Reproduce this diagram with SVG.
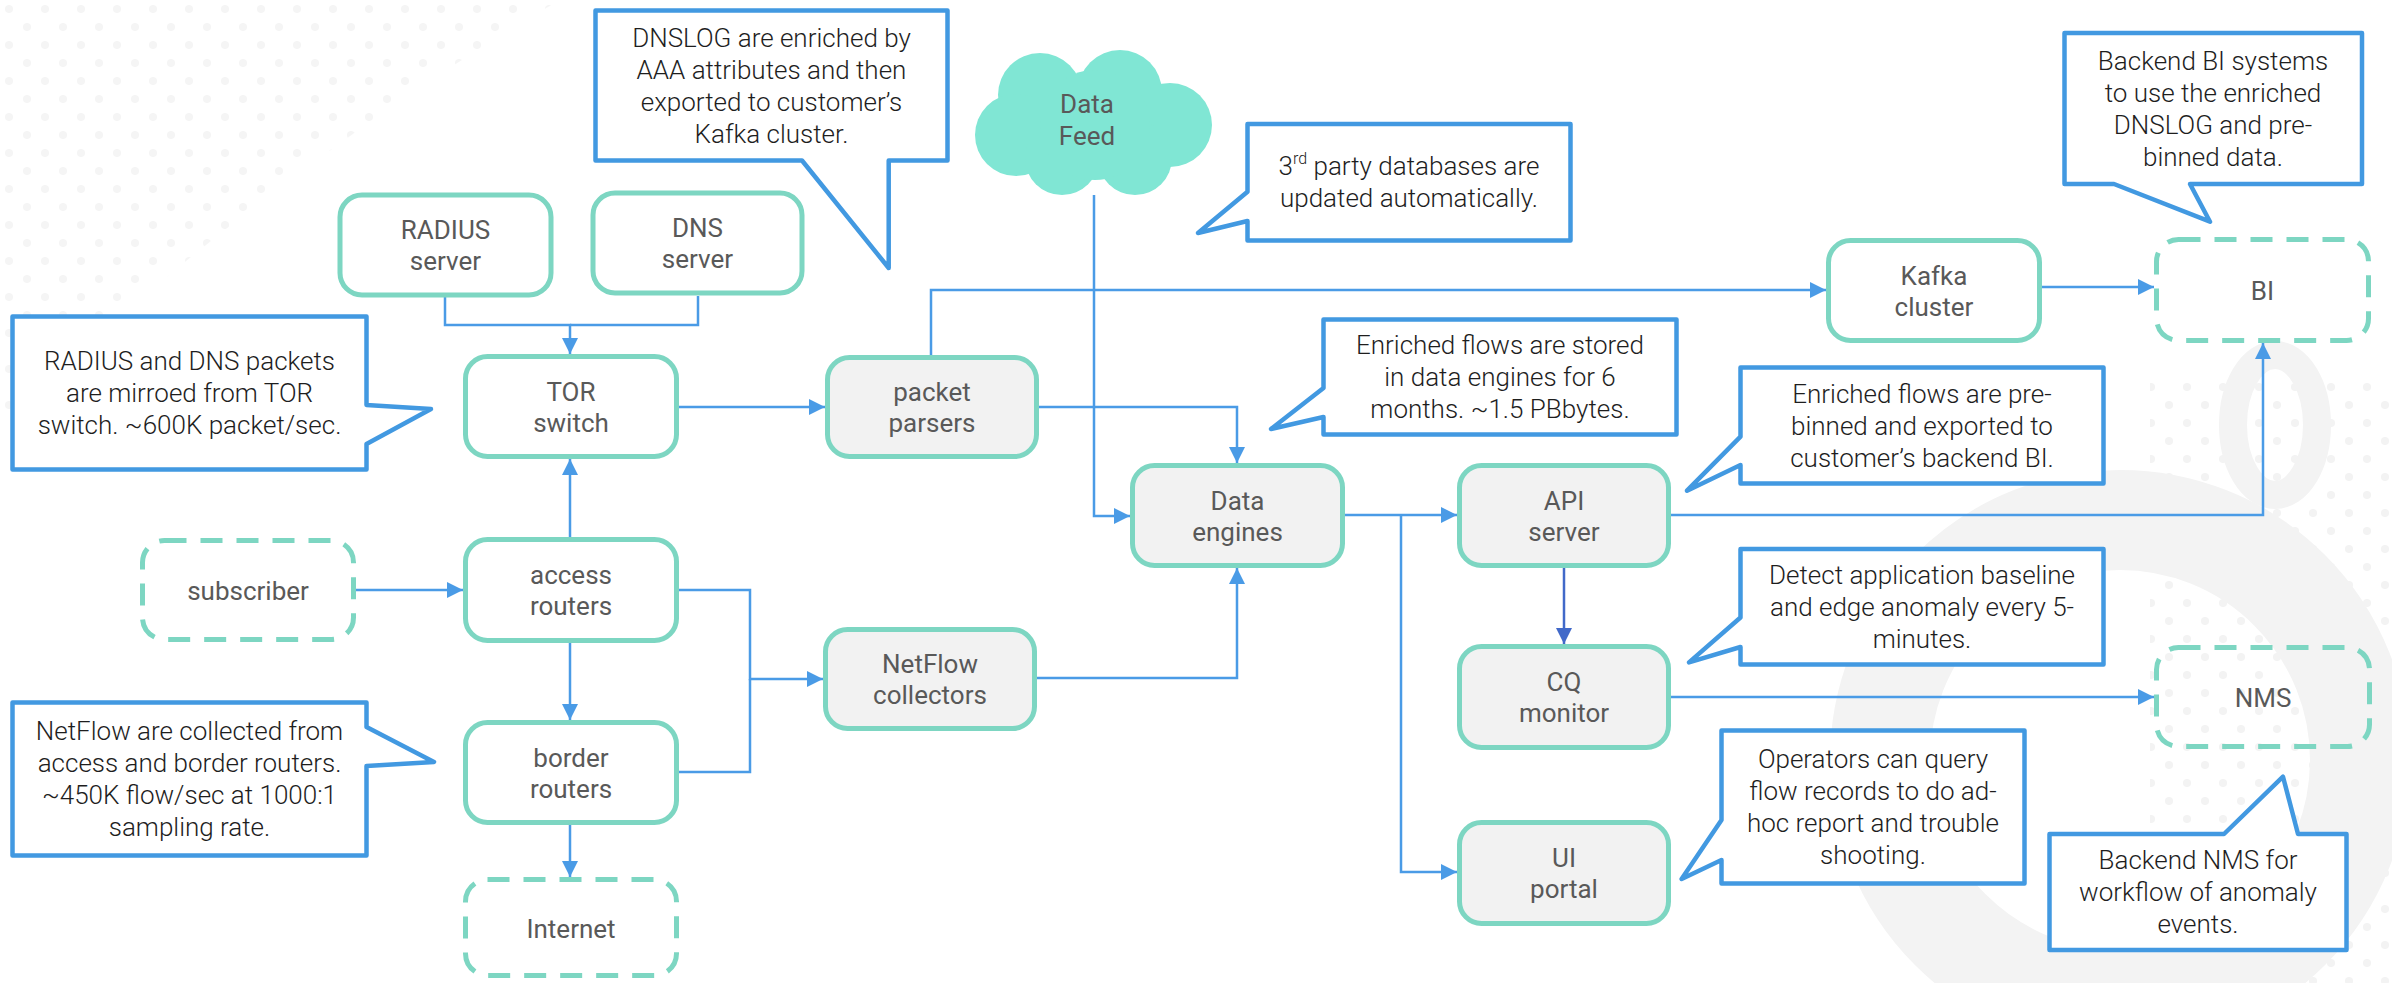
<svg xmlns="http://www.w3.org/2000/svg" width="2392" height="983" viewBox="0 0 2392 983">
<style>
.node{stroke:#7dd6c2;stroke-width:5;fill:#ffffff}
.gray{fill:#f2f2f2}
.dash{stroke-dasharray:22 14;fill:none}
.nt{font-family:Roboto,"Liberation Sans",sans-serif;font-size:26px;fill:#595959;text-anchor:middle}
.ct{font-family:Roboto,"Liberation Sans",sans-serif;font-weight:300;font-size:26px;fill:#1e1e1e;text-anchor:middle}
.call{fill:#ffffff;stroke:#4299e1;stroke-width:4.5;stroke-linejoin:round}
.c{fill:none;stroke:#4a9be6;stroke-width:2.5}
</style>
<defs>
<marker id="ah" viewBox="0 0 16 16" markerWidth="16" markerHeight="16" refX="16" refY="8" orient="auto" markerUnits="userSpaceOnUse">
<path d="M0,0 L16,8 L0,16 z" fill="#4a9be6"/>
</marker>
<marker id="ahd" viewBox="0 0 16 16" markerWidth="16" markerHeight="16" refX="16" refY="8" orient="auto" markerUnits="userSpaceOnUse">
<path d="M0,0 L16,8 L0,16 z" fill="#4169c9"/>
</marker>
<pattern id="dots" width="36" height="36" patternUnits="userSpaceOnUse">
<circle cx="9" cy="9" r="4" fill="#f3f3f3"/>
<circle cx="27" cy="27" r="4" fill="#f3f3f3"/>
</pattern>
</defs>
<rect width="2392" height="983" fill="#ffffff"/>
<g id="watermark">
<path d="M0,0 H560 Q300,150 0,420 Z" fill="url(#dots)" opacity="0.8"/>
<rect x="2150" y="380" width="242" height="603" fill="url(#dots)"/>
<circle cx="2120" cy="760" r="240" fill="none" stroke="#f3f3f3" stroke-width="100"/>
<ellipse cx="2275" cy="425" rx="42" ry="70" fill="none" stroke="#f3f3f3" stroke-width="28"/>
</g>
<g id="connectors">
<path class="c" d="M445,297 V325 H570 V354" marker-end="url(#ah)"/>
<path class="c" d="M698,296 V325 H570"/>
<path class="c" d="M679,407 H825" marker-end="url(#ah)"/>
<path class="c" d="M570,537 V459" marker-end="url(#ah)"/>
<path class="c" d="M356,590 H463" marker-end="url(#ah)"/>
<path class="c" d="M679,590 H750 V679 H823" marker-end="url(#ah)"/>
<path class="c" d="M679,772 H750 V679"/>
<path class="c" d="M570,643 V720" marker-end="url(#ah)"/>
<path class="c" d="M570,825 V877" marker-end="url(#ah)"/>
<path class="c" d="M931,355 V290 H1826" marker-end="url(#ah)"/>
<path class="c" d="M1094,195 V516 H1130" marker-end="url(#ah)"/>
<path class="c" d="M1039,407 H1237 V463" marker-end="url(#ah)"/>
<path class="c" d="M1037,678 H1237 V568" marker-end="url(#ah)"/>
<path class="c" d="M1345,515 H1457" marker-end="url(#ah)"/>
<path class="c" d="M1401,515 V872 H1457" marker-end="url(#ah)"/>
<path class="c" d="M1564,568 V644" style="stroke:#4169c9" marker-end="url(#ahd)"/>
<path class="c" d="M1671,515 H2263 V343" marker-end="url(#ah)"/>
<path class="c" d="M2042,287 H2154" marker-end="url(#ah)"/>
<path class="c" d="M1671,697 H2154" marker-end="url(#ah)"/>
</g>
<g id="radius-server">
<rect class="node" x="340" y="195" width="211" height="100" rx="22"/>
<text class="nt" x="445.5" y="239">RADIUS</text><text class="nt" x="445.5" y="270">server</text>
</g>
<g id="dns-server">
<rect class="node" x="593" y="193" width="209" height="100" rx="22"/>
<text class="nt" x="697.5" y="237">DNS</text><text class="nt" x="697.5" y="268">server</text>
</g>
<g id="tor-switch">
<rect class="node" x="465.5" y="356.5" width="211" height="100" rx="22"/>
<text class="nt" x="571" y="400.5">TOR</text><text class="nt" x="571" y="431.5">switch</text>
</g>
<g id="access-routers">
<rect class="node" x="465.5" y="539.5" width="211" height="101" rx="22"/>
<text class="nt" x="571" y="584">access</text><text class="nt" x="571" y="615">routers</text>
</g>
<g id="border-routers">
<rect class="node" x="465.5" y="722.5" width="211" height="100" rx="22"/>
<text class="nt" x="571" y="766.5">border</text><text class="nt" x="571" y="797.5">routers</text>
</g>
<g id="internet">
<rect class="node dash" x="465.5" y="879.5" width="211" height="96" rx="22"/>
<text class="nt" x="571" y="938">Internet</text>
</g>
<g id="subscriber">
<rect class="node dash" x="142.5" y="540.5" width="211" height="99" rx="22"/>
<text class="nt" x="248" y="600">subscriber</text>
</g>
<g id="packet-parsers">
<rect class="node gray" x="827.5" y="357.5" width="209" height="99" rx="22"/>
<text class="nt" x="932" y="401">packet</text><text class="nt" x="932" y="432">parsers</text>
</g>
<g id="netflow-collectors">
<rect class="node gray" x="825.5" y="629.5" width="209" height="99" rx="22"/>
<text class="nt" x="930" y="673">NetFlow</text><text class="nt" x="930" y="704">collectors</text>
</g>
<g id="data-engines">
<rect class="node gray" x="1132.5" y="465.5" width="210" height="100" rx="22"/>
<text class="nt" x="1237.5" y="509.5">Data</text><text class="nt" x="1237.5" y="540.5">engines</text>
</g>
<g id="api-server">
<rect class="node gray" x="1459.5" y="465.5" width="209" height="100" rx="22"/>
<text class="nt" x="1564" y="509.5">API</text><text class="nt" x="1564" y="540.5">server</text>
</g>
<g id="cq-monitor">
<rect class="node gray" x="1459.5" y="646.5" width="209" height="101" rx="22"/>
<text class="nt" x="1564" y="691">CQ</text><text class="nt" x="1564" y="722">monitor</text>
</g>
<g id="ui-portal">
<rect class="node gray" x="1459.5" y="822.5" width="209" height="101" rx="22"/>
<text class="nt" x="1564" y="867">UI</text><text class="nt" x="1564" y="898">portal</text>
</g>
<g id="kafka-cluster">
<rect class="node" x="1828.5" y="240.5" width="211" height="100" rx="22"/>
<text class="nt" x="1934" y="284.5">Kafka</text><text class="nt" x="1934" y="315.5">cluster</text>
</g>
<g id="bi">
<rect class="node dash" x="2156.5" y="239.5" width="212" height="101" rx="22"/>
<text class="nt" x="2262.5" y="300">BI</text>
</g>
<g id="nms">
<rect class="node dash" x="2156.5" y="647.5" width="213" height="99" rx="22"/>
<text class="nt" x="2263" y="707">NMS</text>
</g>
<g id="data-feed">
<g fill="#80e6d4">
<circle cx="1040" cy="95" r="42"/>
<circle cx="1120" cy="92" r="42"/>
<circle cx="1170" cy="125" r="42"/>
<circle cx="1016" cy="135" r="41"/>
<circle cx="1062" cy="158" r="37"/>
<circle cx="1135" cy="158" r="37"/>
<circle cx="1095" cy="125" r="55"/>
</g>
<text class="nt" x="1087" y="113">Data</text><text class="nt" x="1087" y="145">Feed</text>
</g>
<g id="callout-radius-dns">
<path class="call" d="M12.5,316.5 H366.5 V405 L431,409 L366.5,444 V469.5 H12.5 Z"/>
<text class="ct" x="189.5" y="370">RADIUS and DNS packets</text>
<text class="ct" x="189.5" y="402">are mirroed from TOR</text>
<text class="ct" x="189.5" y="434">switch. ~600K packet/sec.</text>
</g>
<g id="callout-netflow">
<path class="call" d="M12.5,702.5 H366.5 V727 L434,762 L366.5,766 V855.5 H12.5 Z"/>
<text class="ct" x="189.5" y="740">NetFlow are collected from</text>
<text class="ct" x="189.5" y="772">access and border routers.</text>
<text class="ct" x="189.5" y="804">~450K flow/sec at 1000:1</text>
<text class="ct" x="189.5" y="836">sampling rate.</text>
</g>
<g id="callout-dnslog">
<path class="call" d="M595.5,10.5 H947.5 V160.5 H888.7 V268 L802,160.5 H595.5 Z"/>
<text class="ct" x="771.5" y="46.5">DNSLOG are enriched by</text>
<text class="ct" x="771.5" y="78.5">AAA attributes and then</text>
<text class="ct" x="771.5" y="110.5">exported to customer’s</text>
<text class="ct" x="771.5" y="142.5">Kafka cluster.</text>
</g>
<g id="callout-3rd-party">
<path class="call" d="M1247.5,124 H1570.5 V240.5 H1247.5 V221 L1198,233 L1247.5,191.7 Z"/>
<text class="ct" x="1409" y="175">3<tspan font-size="16" dy="-11">rd</tspan><tspan dy="11"> party databases are</tspan></text>
<text class="ct" x="1409" y="207">updated automatically.</text>
</g>
<g id="callout-stored">
<path class="call" d="M1323.5,319.5 H1676.5 V434.5 H1323.5 V417 L1271,429 L1323.5,388 Z"/>
<text class="ct" x="1500" y="354">Enriched flows are stored</text>
<text class="ct" x="1500" y="386">in data engines for 6</text>
<text class="ct" x="1500" y="418">months. ~1.5 PBbytes.</text>
</g>
<g id="callout-prebinned">
<path class="call" d="M1740.5,367.5 H2103.5 V483.5 H1740.5 V465 L1687,490.7 L1740.5,436.7 Z"/>
<text class="ct" x="1922" y="402.5">Enriched flows are pre-</text>
<text class="ct" x="1922" y="434.5">binned and exported to</text>
<text class="ct" x="1922" y="466.5">customer’s backend BI.</text>
</g>
<g id="callout-detect">
<path class="call" d="M1740.5,549 H2103.5 V664.5 H1740.5 V647 L1689,662.4 L1740.5,617.5 Z"/>
<text class="ct" x="1922" y="584">Detect application baseline</text>
<text class="ct" x="1922" y="616">and edge anomaly every 5-</text>
<text class="ct" x="1922" y="648">minutes.</text>
</g>
<g id="callout-operators">
<path class="call" d="M1721.5,730.5 H2024.5 V883.5 H1721.5 V860 L1681.6,879 L1721.5,820 Z"/>
<text class="ct" x="1873" y="768">Operators can query</text>
<text class="ct" x="1873" y="800">flow records to do ad-</text>
<text class="ct" x="1873" y="832">hoc report and trouble</text>
<text class="ct" x="1873" y="864">shooting.</text>
</g>
<g id="callout-backend-nms">
<path class="call" d="M2049.5,834 H2224 L2283,776.7 L2298,834 H2346.5 V950 H2049.5 Z"/>
<text class="ct" x="2198" y="869">Backend NMS for</text>
<text class="ct" x="2198" y="901">workflow of anomaly</text>
<text class="ct" x="2198" y="933">events.</text>
</g>
<g id="callout-backend-bi">
<path class="call" d="M2064.5,33 H2362 V184 H2190 L2210,221.7 L2114,184 H2064.5 Z"/>
<text class="ct" x="2213" y="69.5">Backend BI systems</text>
<text class="ct" x="2213" y="101.5">to use the enriched</text>
<text class="ct" x="2213" y="133.5">DNSLOG and pre-</text>
<text class="ct" x="2213" y="165.5">binned data.</text>
</g>
</svg>
